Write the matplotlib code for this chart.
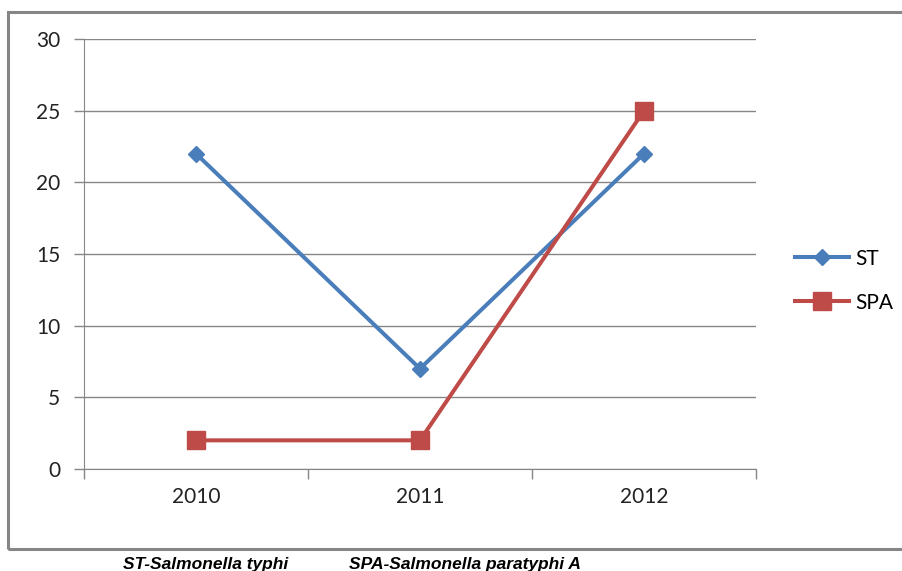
import matplotlib.pyplot as plt
from matplotlib.patches import Rectangle

years = ["2010", "2011", "2012"]
st = [22, 7, 22]
spa = [2, 2, 25]
yticks = [0, 5, 10, 15, 20, 25, 30]

W, H = 902, 571
fig = plt.figure(figsize=(W / 100, H / 100), dpi=100)
plt.rcParams['font.family'] = ['Lato', 'DejaVu Sans']

#outer chart border, cut off on the right like the source
fig.patches.append(Rectangle((8 / W, 1 - 549 / H), 1.0, (549 - 12) / H,
                             transform=fig.transFigure, fill=False,
                             edgecolor="#868686", lw=2.2))

ax = fig.add_axes([84 / W, 1 - 469 / H, 672 / W, 430 / H])
x = range(len(years))
ax.plot(x, st, color="#4A7EBB", lw=2.9, marker="D", ms=8, label="ST")
ax.plot(x, spa, color="#BE4B48", lw=2.9, marker="s", ms=13, label="SPA")

ax.set_xlim(-0.5, 2.5)
ax.set_ylim(0, 30)
ax.set_yticks(yticks)
ax.set_xticks(list(x))
ax.set_xticklabels(years)
ax.set_xticks([-0.5, 0.5, 1.5, 2.5], minor=True)
ax.tick_params(axis="x", which="major", length=0, pad=13, labelsize=15, labelcolor="#222222")
ax.tick_params(axis="x", which="minor", length=7, color="#868686", width=1)
ax.tick_params(axis="y", length=7, color="#868686", width=1, pad=10, labelsize=15,
               labelcolor="#222222")
ax.grid(axis="y", color="#868686", lw=1)
ax.set_axisbelow(True)
for s in ["top", "right"]:
    ax.spines[s].set_visible(False)
for s in ["left", "bottom"]:
    ax.spines[s].set_color("#868686")

ax.legend(loc="center left", bbox_to_anchor=(1.03, 0.438), frameon=False,
          fontsize=15, handlelength=2.6, labelspacing=1.15, handletextpad=0.3)

fig.text(123 / W, 1 - 569 / H, "ST-Salmonella typhi", fontfamily="Liberation Sans",
         fontweight="bold", fontstyle="italic", fontsize=12.5)
fig.text(349 / W, 1 - 569 / H, "SPA-Salmonella paratyphi A", fontfamily="Liberation Sans",
         fontweight="bold", fontstyle="italic", fontsize=12.5)

fig.savefig("out.png", dpi=100)
